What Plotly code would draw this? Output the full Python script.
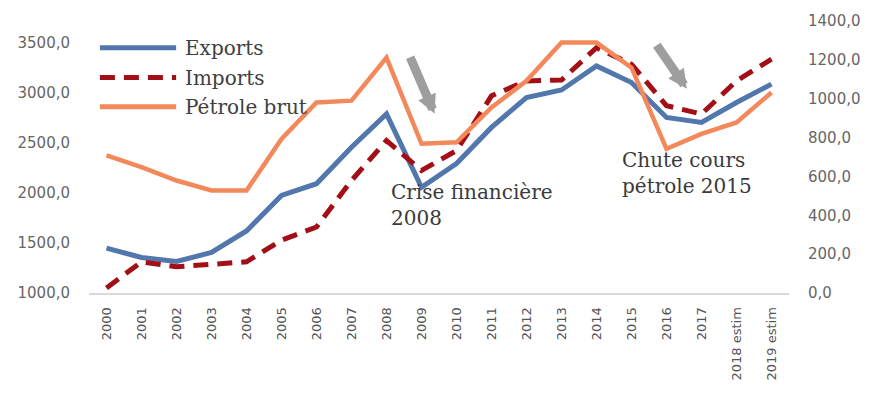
import plotly.graph_objects as go

years = ["2000", "2001", "2002", "2003", "2004", "2005", "2006", "2007", "2008", "2009",
         "2010", "2011", "2012", "2013", "2014", "2015", "2016", "2017", "2018 estim", "2019 estim"]
exports = [1448, 1355, 1315, 1405, 1620, 1976, 2093, 2457, 2790, 2056,
           2295, 2656, 2955, 3030, 3271, 3105, 2756, 2706, 2905, 3089]
imports = [1050, 1312, 1262, 1285, 1312, 1528, 1660, 2125, 2524, 2225,
           2424, 2972, 3121, 3130, 3453, 3288, 2873, 2790, 3121, 3338]
petrole = [708, 648, 579, 528, 528, 793, 981, 990, 1212, 768,
           776, 955, 1092, 1289, 1289, 1160, 742, 819, 878, 1032]

left_ticks = [1000, 1500, 2000, 2500, 3000, 3500]
right_ticks = [0, 200, 400, 600, 800, 1000, 1200, 1400]

C_EXP = "#5177ad"
C_IMP = "#a30f16"
C_PET = "#f3895b"
SERIF = "DejaVu Serif"
SANS = "DejaVu Sans"

fig = go.Figure()
fig.add_trace(go.Scatter(x=years, y=petrole, name="Pétrole brut", yaxis="y2",
                         mode="lines", line=dict(color=C_PET, width=4.5)))
fig.add_trace(go.Scatter(x=years, y=exports, name="Exports", mode="lines",
                         line=dict(color=C_EXP, width=5)))
fig.add_trace(go.Scatter(x=years, y=imports, name="Imports", mode="lines",
                         line=dict(color=C_IMP, width=5, dash="15px,9px")))

# custom legend (paper coordinates)
legend_items = [("Exports", C_EXP, "solid", 0.902),
                ("Imports", C_IMP, "15px,9px", 0.792),
                ("Pétrole brut", C_PET, "solid", 0.685)]
shapes = []
annotations = []
for name, col, dash, yy in legend_items:
    shapes.append(dict(type="line", xref="paper", yref="paper", x0=0.0156, x1=0.1245,
                       y0=yy, y1=yy, line=dict(color=col, width=5, dash=dash)))
    annotations.append(dict(text=name, xref="paper", yref="paper", x=0.134, y=yy,
                            xanchor="left", yanchor="middle", showarrow=False,
                            font=dict(family=SERIF, size=20, color="#404040")))

annotations.append(dict(text="Crise financière<br>2008", xref="paper", yref="paper",
                        x=0.428, y=0.322, xanchor="left", yanchor="middle", align="left",
                        showarrow=False, font=dict(family=SERIF, size=20, color="#3a3a3a")))
annotations.append(dict(text="Chute cours<br>pétrole 2015", xref="paper", yref="paper",
                        x=0.758, y=0.441, xanchor="left", yanchor="middle", align="left",
                        showarrow=False, font=dict(family=SERIF, size=20, color="#3a3a3a")))
for tx, ty, ax, ay in [(0.4936, 0.659, -25, -58), (0.854, 0.751, -31, -45)]:
    annotations.append(dict(text="", xref="paper", yref="paper", x=tx, y=ty, ax=ax, ay=ay,
                            showarrow=True, arrowhead=2, arrowsize=0.42, arrowwidth=9,
                            arrowcolor="#9e9e9e", standoff=0))

fig.update_layout(
    width=873, height=394,
    margin=dict(l=89, r=77, t=20, b=101),
    paper_bgcolor="white", plot_bgcolor="white",
    showlegend=False,
    separators=", ",
    xaxis=dict(type="category", categoryorder="array", categoryarray=years,
               range=[-0.5, len(years) - 0.5],
               showgrid=False, zeroline=False, showline=True, linecolor="#d9d9d9",
               linewidth=2, ticks="", tickangle=-90, ticklabelstandoff=7,
               tickfont=dict(family=SANS, size=13, color="#555555")),
    yaxis=dict(range=[1000, 3720], tickvals=left_ticks, tickformat=".1f",
               showgrid=False, zeroline=False, showline=False, ticks="",
               ticklabelstandoff=18,
               tickfont=dict(family=SANS, size=15, color="#666666")),
    yaxis2=dict(range=[0, 1400], tickvals=right_ticks, tickformat=".1f",
                overlaying="y", side="right", showgrid=False, zeroline=False,
                showline=False, ticks="", ticklabelstandoff=18,
                tickfont=dict(family=SANS, size=15, color="#666666")),
    shapes=shapes,
    annotations=annotations,
)

fig.write_html("out.html")
